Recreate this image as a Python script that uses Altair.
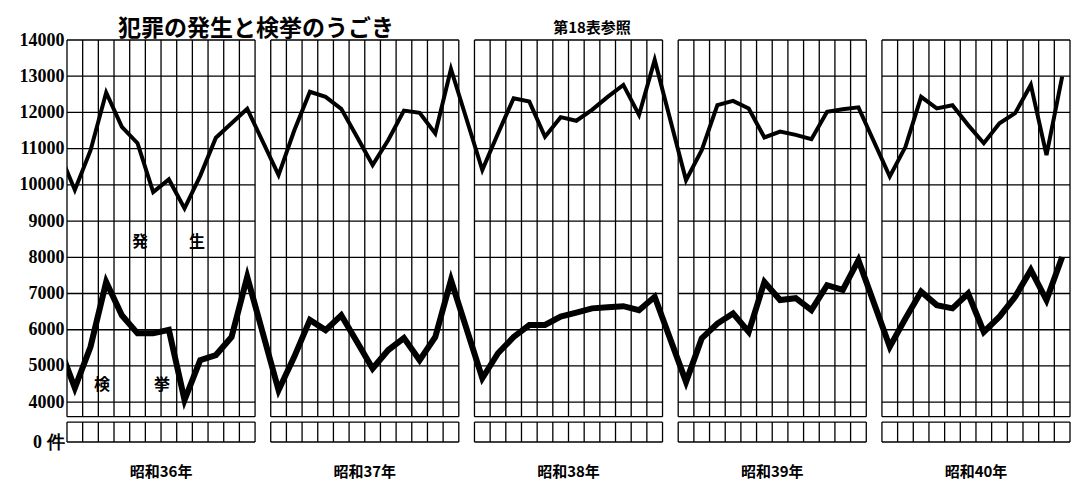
import altair as alt
import pandas as pd

# ---- data ----
YEARS = ["昭和36年", "昭和37年", "昭和38年", "昭和39年", "昭和40年"]
MONTHS = list(range(1, 13))

# 発生 (occurrence), monthly, per year
HASSEI_36 = [9860, 10950, 12550, 11600, 11150, 9800, 10150, 9350, 10250, 11300, 11700, 12100]
HASSEI_37 = [10270, 11500, 12570, 12430, 12100, 11330, 10550, 11240, 12050, 11990, 11420, 13200]
HASSEI_38 = [10410, 11420, 12390, 12300, 11330, 11870, 11770, 12070, 12430, 12760, 11930, 13450]
HASSEI_39 = [10130, 10960, 12200, 12320, 12110, 11310, 11470, 11380, 11260, 12020, 12090, 12140]
HASSEI_40 = [10230, 11050, 12430, 12110, 12200, 11650, 11150, 11700, 11980, 12760, 10820, 12990]

# 検挙 (arrests), monthly, per year
KENKYO_36 = [4390, 5530, 7320, 6400, 5900, 5900, 6000, 4060, 5160, 5300, 5800, 7460]
KENKYO_37 = [4330, 5250, 6270, 5990, 6400, 5670, 4930, 5440, 5770, 5160, 5800, 7370]
KENKYO_38 = [4660, 5350, 5800, 6130, 6130, 6360, 6470, 6590, 6620, 6650, 6540, 6910]
KENKYO_39 = [4560, 5760, 6170, 6450, 5940, 7320, 6820, 6870, 6540, 7230, 7100, 7920]
KENKYO_40 = [5530, 6310, 7050, 6680, 6590, 7000, 5940, 6360, 6910, 7650, 6820, 8010]

# previous month (昭和35年12月), only its stub is visible at the left edge
PREV_HASSEI = 10900
PREV_KENKYO = 5550

Y_TICKS = [4000, 5000, 6000, 7000, 8000, 9000, 10000, 11000, 12000, 13000, 14000]
ZERO_LABEL = "0 件"
ANNOTATIONS = ["発", "生", "検", "挙"]
ANNOT_X = [4.66, 8.3, 2.23, 6.06]
ANNOT_V = [8420, 8420, 4470, 4470]

TITLE = "犯罪の発生と検挙のうごき"
NOTE = "第18表参照"

# ---- structure ----
COLS = 12
STEP = 13            # 12 month columns + 1 gap column
Y_BOTTOM = 2900      # bottom of the broken-axis strip (labelled 0)
STRIP_TOP = 3600
BOX_TOP = 3450

hassei = [HASSEI_36, HASSEI_37, HASSEI_38, HASSEI_39, HASSEI_40]
kenkyo = [KENKYO_36, KENKYO_37, KENKYO_38, KENKYO_39, KENKYO_40]

rows_h = [{"x": -0.5, "v": PREV_HASSEI}]
rows_k = [{"x": -0.5, "v": PREV_KENKYO}]
for yi in range(len(YEARS)):
    for m in range(COLS):
        x = yi * STEP + m + 0.5
        rows_h.append({"x": x, "v": hassei[yi][m]})
        rows_k.append({"x": x, "v": kenkyo[yi][m]})
df_h = pd.DataFrame(rows_h)
df_k = pd.DataFrame(rows_k)

grid = []
for yi in range(len(YEARS)):
    x0 = yi * STEP
    for k in range(COLS + 1):
        grid.append({"x": x0 + k, "x2": x0 + k, "v": 14000, "v2": STRIP_TOP})
        grid.append({"x": x0 + k, "x2": x0 + k, "v": BOX_TOP, "v2": Y_BOTTOM})
    for lv in Y_TICKS + [STRIP_TOP, BOX_TOP, Y_BOTTOM]:
        grid.append({"x": x0, "x2": x0 + COLS, "v": lv, "v2": lv})
df_grid = pd.DataFrame(grid)

df_years = pd.DataFrame({"label": YEARS, "x": [i * STEP + COLS / 2 for i in range(len(YEARS))]})
df_ann = pd.DataFrame({"label": ANNOTATIONS, "x": ANNOT_X, "v": ANNOT_V})

W, H = 1003, 402
xs = alt.Scale(domain=[0, STEP * len(YEARS) - 1], nice=False, zero=False)
ys = alt.Scale(domain=[Y_BOTTOM, 14000], nice=False, zero=False)
yaxis = alt.Axis(
    values=[Y_BOTTOM] + Y_TICKS,
    format="d",
    labelExpr=f"datum.value == {Y_BOTTOM} ? '{ZERO_LABEL}' : datum.label",
    domain=False, ticks=False, grid=False, title=None,
    labelFont="Liberation Serif", labelFontSize=18, labelFontWeight="bold",
    labelColor="black", labelPadding=3, labelBaseline="middle",
)
X = alt.X("x:Q", scale=xs, axis=None)
Y = alt.Y("v:Q", scale=ys, axis=yaxis)

grid_layer = alt.Chart(df_grid).mark_rule(color="black", strokeWidth=1.3).encode(
    x=X, x2="x2:Q", y=Y, y2="v2:Q"
)
line_h = alt.Chart(df_h).mark_line(color="black", strokeWidth=4, strokeJoin="miter", clip=True).encode(
    x=X, y=Y
)
line_k = alt.Chart(df_k).mark_line(color="black", strokeWidth=6, strokeJoin="miter", clip=True).encode(
    x=X, y=Y
)
ann = alt.Chart(df_ann).mark_text(
    font="Noto Sans CJK JP", fontSize=16, fontWeight="bold", color="black"
).encode(x=X, y=Y, text="label:N")
years_layer = alt.Chart(df_years).mark_text(
    font="Noto Sans CJK JP", fontSize=15, fontWeight="bold", color="black", baseline="middle"
).encode(x=X, y=alt.value(H + 30), text="label:N")
title_layer = alt.Chart(pd.DataFrame({"t": [TITLE]})).mark_text(
    font="Noto Sans CJK JP", fontSize=23, fontWeight="bold", color="black", align="left", baseline="alphabetic"
).encode(x=alt.value(51), y=alt.value(-4), text="t:N")
note_layer = alt.Chart(pd.DataFrame({"t": [NOTE]})).mark_text(
    font="Noto Sans CJK JP", fontSize=15, fontWeight="bold", color="black", align="center", baseline="middle"
).encode(x=alt.value(525), y=alt.value(-12), text="t:N")

chart = alt.layer(grid_layer, line_h, line_k, ann, years_layer, title_layer, note_layer).properties(
    width=W, height=H,
    autosize=alt.AutoSizeParams(type="none"),
    padding={"left": 59, "top": 32, "right": 6, "bottom": 40},
    background="white",
).configure_view(stroke=None)

chart.save("out.html", embed_options={"renderer": "svg", "actions": False})
